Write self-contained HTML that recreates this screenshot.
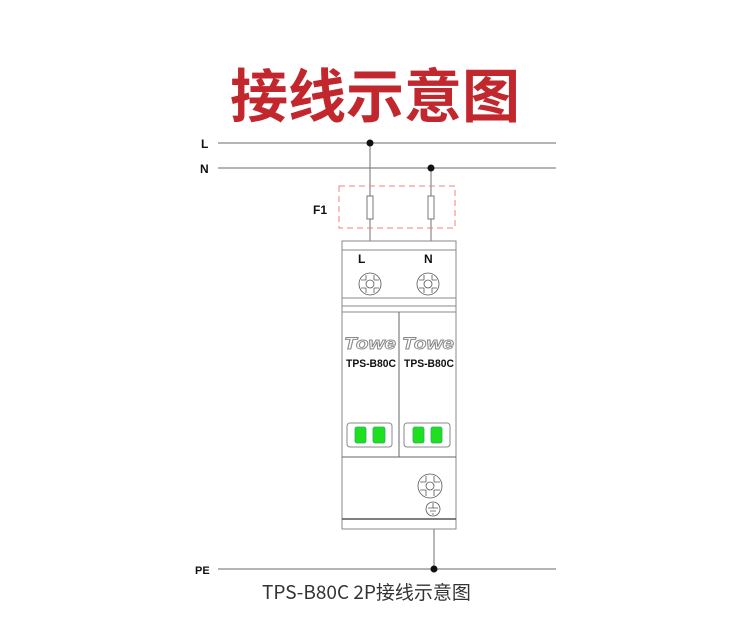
<!DOCTYPE html>
<html><head><meta charset="utf-8"><style>
html,body{margin:0;padding:0;background:#fff;}
body{width:750px;height:623px;overflow:hidden;position:relative;}
.t{position:absolute;left:0;width:750px;text-align:center;}
</style></head><body>
<div class="t" style="top:56px;font:bold 58px/72px 'Noto Sans CJK SC',sans-serif;color:#c1272d;letter-spacing:0px;">接线示意图</div>
<svg width="750" height="623" style="position:absolute;left:0;top:0" xmlns="http://www.w3.org/2000/svg">
<g font-family="Liberation Sans, sans-serif" font-weight="bold" font-size="12" fill="#111">
<text x="201" y="148">L</text>
<text x="200" y="173">N</text>
<text x="313" y="214">F1</text>
<text x="195" y="574" font-size="11">PE</text>
</g>
<g stroke="#888" stroke-width="1.2" fill="none">
<line x1="218" y1="143" x2="556" y2="143"/>
<line x1="218" y1="168" x2="556" y2="168"/>
<line x1="218" y1="569" x2="556" y2="569"/>
<line x1="370" y1="143" x2="370" y2="241"/>
<line x1="431" y1="168" x2="431" y2="241"/>
<line x1="434" y1="529" x2="434" y2="569"/>
</g>
<rect x="339" y="186" width="116" height="42" fill="none" stroke="#f08080" stroke-width="1" stroke-dasharray="6,4"/>
<g fill="#fff" stroke="#777" stroke-width="1">
<rect x="367" y="196" width="6" height="23"/>
<rect x="428" y="196" width="6" height="23"/>
</g>
<g fill="none" stroke="#888" stroke-width="1">
<rect x="342" y="241" width="114" height="288" fill="#fff"/>
<line x1="342" y1="250" x2="456" y2="250"/>
<line x1="342" y1="298" x2="456" y2="298"/>
<line x1="342" y1="306" x2="456" y2="306"/>
<line x1="342" y1="312" x2="456" y2="312"/>
<line x1="342" y1="457" x2="456" y2="457" stroke="#666"/>
<line x1="399" y1="312" x2="399" y2="457" stroke="#666"/>
<line x1="342" y1="519" x2="456" y2="519" stroke="#555" stroke-width="1.5"/>
</g>
<g font-family="Liberation Sans, sans-serif" font-weight="bold" font-size="12" fill="#111">
<text x="358" y="263">L</text>
<text x="424" y="263">N</text>
</g>
<g stroke="#555" stroke-width="0.8" fill="#fff">
<circle cx="370" cy="284" r="11"/><circle cx="370" cy="284" r="4"/>
<path d="M366 275v5M374 275v5M366 288v5M374 288v5M361 280h5M361 288h5M374 280h5M374 288h5" fill="none"/>
<circle cx="428" cy="284" r="11"/><circle cx="428" cy="284" r="4"/>
<path d="M424 275v5M432 275v5M424 288v5M432 288v5M419 280h5M419 288h5M432 280h5M432 288h5" fill="none"/>
<circle cx="430" cy="486" r="12"/><circle cx="430" cy="486" r="4"/>
<path d="M426 476v6M434 476v6M426 490v6M434 490v6M420 482h6M420 490h6M434 482h6M434 490h6" fill="none"/>
<circle cx="433" cy="509" r="7"/>
<path d="M433 503v5M428 508h10M430 511h6M432 514h2" fill="none"/>
</g>
<g font-family="Liberation Sans, sans-serif" font-style="italic" font-weight="bold" font-size="17" fill="#fff" stroke="#888" stroke-width="0.9">
<text x="344" y="349" textLength="52" lengthAdjust="spacingAndGlyphs">Towe</text>
<text x="402" y="349" textLength="52" lengthAdjust="spacingAndGlyphs">Towe</text>
</g>
<g font-family="Liberation Sans, sans-serif" font-weight="bold" font-size="11" fill="#111">
<text x="346" y="367" textLength="50" lengthAdjust="spacingAndGlyphs">TPS-B80C</text>
<text x="404" y="367" textLength="50" lengthAdjust="spacingAndGlyphs">TPS-B80C</text>
</g>
<g stroke="#888" stroke-width="1" fill="#fff">
<rect x="347" y="423" width="45" height="24" rx="3"/>
<rect x="404" y="423" width="46" height="24" rx="3"/>
</g>
<g fill="#1ee01e" stroke="#3a6" stroke-width="0.8">
<rect x="355" y="427" width="11" height="16" rx="2"/>
<rect x="373" y="427" width="12" height="16" rx="2"/>
<rect x="413" y="427" width="11" height="16" rx="2"/>
<rect x="431" y="427" width="11" height="16" rx="2"/>
</g>
<g fill="#111">
<circle cx="370" cy="143" r="3.5"/>
<circle cx="431" cy="168" r="3.5"/>
<circle cx="434" cy="569" r="3.5"/>
</g>
</svg>
<div style="position:absolute;left:262px;top:579px;font:19px/26px 'Noto Sans CJK SC',sans-serif;color:#333;white-space:nowrap;">TPS-B80C 2P接线示意图</div>
</body></html>
